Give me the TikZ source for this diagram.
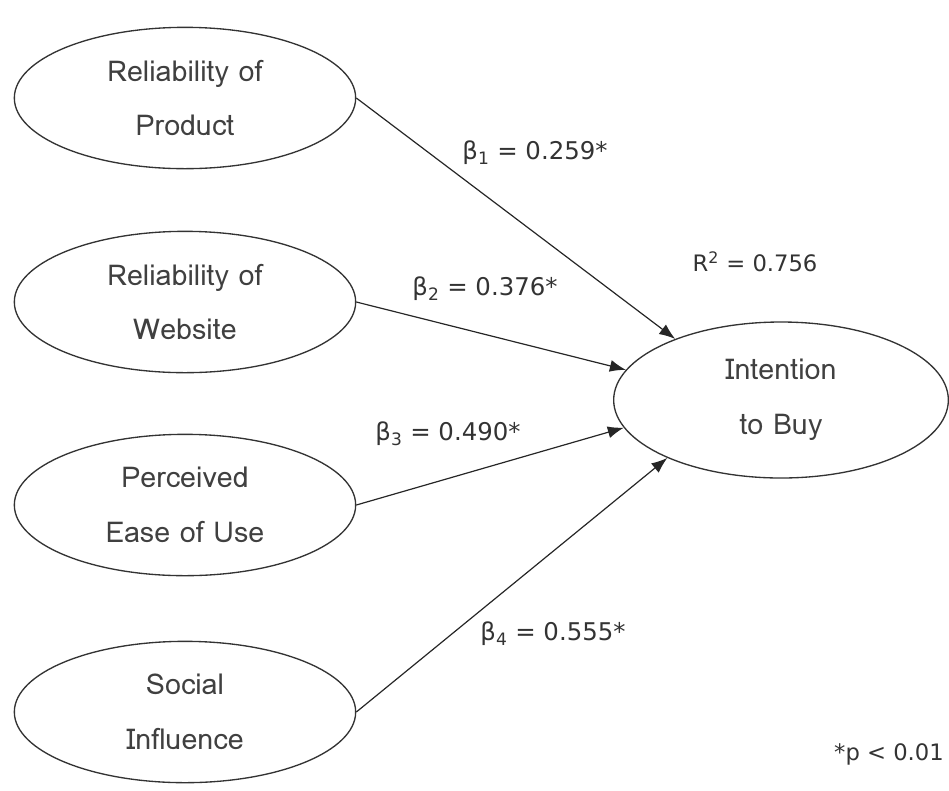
\documentclass[tikz,border=0pt]{standalone}
\usepackage{fontspec}
\setmainfont{DejaVu Sans}
\newfontfamily\lomafont[Script=Thai]{Loma}
\usetikzlibrary{shapes.geometric,arrows.meta}
\tikzset{
  construct/.style={ellipse, draw=black!80, line width=1pt, inner sep=0pt,
    minimum width=256pt, minimum height=106pt, align=center,
    font=\lomafont\fontsize{21.5}{41}\selectfont, text=black!75},
  path/.style={draw=black!85, line width=0.9pt, -{Latex[length=12pt,width=9pt]}},
  coef/.style={font=\fontsize{18.3}{20}\selectfont, text=black!80},
  note/.style={font=\fontsize{17}{20}\selectfont, text=black!80},
}
\begin{document}
\begin{tikzpicture}[x=0.75pt,y=-0.75pt]
\useasboundingbox (0,0) rectangle (949,790);
\node[construct] (p1) at (185,98) {Reliability of\\Product};
\node[construct] (p2) at (185,302) {Reliability of\\Website};
\node[construct] (p3) at (185,505) {Perceived\\Ease of Use};
\node[construct] (p4) at (185,712) {Social\\Influence};
\node[construct, minimum width=251pt, minimum height=117pt] (ib) at (781,400) {Intention\\to Buy};
\draw[path] (p1.east) -- (ib.150);
\draw[path] (p2.east) -- (ib.169);
\draw[path] (p3.east) -- (ib.190);
\draw[path] (p4.east) -- (ib.207);
\node[coef] (b1) at (535,153) {β\textsubscript{1} = 0.259*};
\node[coef] (b2) at (485,289) {β\textsubscript{2} = 0.376*};
\node[coef] (b3) at (448,434) {β\textsubscript{3} = 0.490*};
\node[coef] (b4) at (553,634) {β\textsubscript{4} = 0.555*};
\node[note] (r2) at (755,262) {R\textsuperscript{2} = 0.756};
\node[note] (pv) at (889,754) {*p < 0.01};
\end{tikzpicture}
\end{document}
